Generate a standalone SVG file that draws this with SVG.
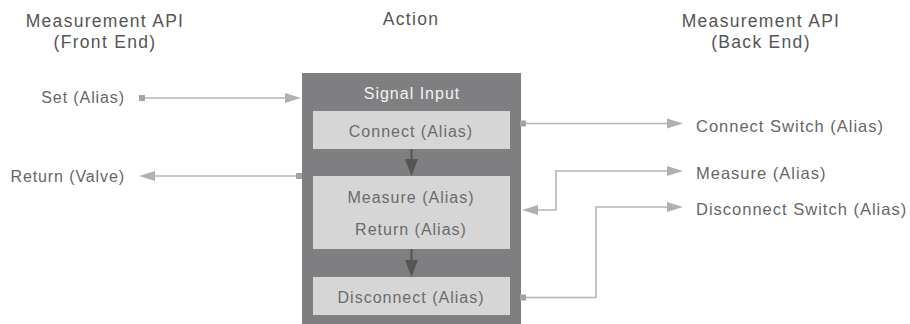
<svg xmlns="http://www.w3.org/2000/svg" width="910" height="324" viewBox="0 0 910 324">
<style>
.hdr{font-family:"Liberation Sans",Arial,sans-serif;font-size:17.5px;letter-spacing:1.3px;fill:#555;text-anchor:middle}
.lbl{font-family:"Liberation Sans",Arial,sans-serif;font-size:16px;letter-spacing:0.9px;fill:#666}
.rl{font-size:16.5px;letter-spacing:1px}
.in{font-family:"Liberation Sans",Arial,sans-serif;font-size:16px;letter-spacing:1px;fill:#6b6b6b;text-anchor:middle}
.outer{fill:#7f7f82}
.inner{fill:#d6d6d6}
.con{fill:none;stroke:#b5b5b5;stroke-width:1.6}
.sq{fill:#a3a3a3}
.ah{fill:#b0b0b0}
.dk{stroke:#555;stroke-width:2}
.dkh{fill:#555}
</style>
<g id="headers">
<text class="hdr" x="105" y="27">Measurement API</text>
<text class="hdr" x="105" y="48">(Front End)</text>
<text class="hdr" x="411" y="25">Action</text>
<text class="hdr" x="761" y="27">Measurement API</text>
<text class="hdr" x="761" y="48">(Back End)</text>
</g>
<g id="action">
<rect class="outer" x="302" y="73" width="219" height="253"/>
<text class="in" x="412" y="99" style="fill:#f2f2f2">Signal Input</text>
</g>
<g id="connect">
<rect class="inner" x="313" y="111" width="197" height="38"/>
<text class="in" x="411" y="136.5">Connect (Alias)</text>
</g>
<g id="measure">
<rect class="inner" x="313" y="176" width="197" height="73"/>
<text class="in" x="411" y="203">Measure (Alias)</text>
<text class="in" x="411" y="235">Return (Alias)</text>
</g>
<g id="disconnect">
<rect class="inner" x="313" y="277" width="197" height="38"/>
<text class="in" x="411" y="303">Disconnect (Alias)</text>
</g>
<g id="labels">
<text class="lbl" x="125" y="103" text-anchor="end">Set (Alias)</text>
<text class="lbl" x="125" y="182" text-anchor="end">Return (Valve)</text>
<text class="lbl rl" x="696" y="131.5">Connect Switch (Alias)</text>
<text class="lbl rl" x="696" y="179">Measure (Alias)</text>
<text class="lbl rl" x="696" y="215">Disconnect Switch (Alias)</text>
</g>
<g id="connectors">
<line class="dk" x1="411.5" y1="149" x2="411.5" y2="162"/>
<polygon class="dkh" points="405,159 418,159 411.5,176"/>
<line class="dk" x1="411.5" y1="249" x2="411.5" y2="262"/>
<polygon class="dkh" points="405,260 418,260 411.5,277"/>
<rect class="sq" x="139" y="95" width="6" height="6"/>
<line class="con" x1="145" y1="98" x2="286" y2="98"/>
<polygon class="ah" points="285,93 301,98 285,103"/>
<rect class="sq" x="296" y="173" width="6" height="6"/>
<line class="con" x1="154" y1="176" x2="296" y2="176"/>
<polygon class="ah" points="155,171 139,176 155,181"/>
<rect class="sq" x="520" y="120.5" width="6" height="6"/>
<line class="con" x1="526" y1="123.5" x2="668" y2="123.5"/>
<polygon class="ah" points="667,118.5 683,123.5 667,128.5"/>
<polyline class="con" points="537,210 556,210 556,171 668,171"/>
<polygon class="ah" points="538,205 522,210 538,215"/>
<polygon class="ah" points="667,166 683,171 667,176"/>
<rect class="sq" x="520" y="294.5" width="6" height="6"/>
<polyline class="con" points="526,297.5 596,297.5 596,207 668,207"/>
<polygon class="ah" points="667,202 683,207 667,212"/>
</g>
</svg>
